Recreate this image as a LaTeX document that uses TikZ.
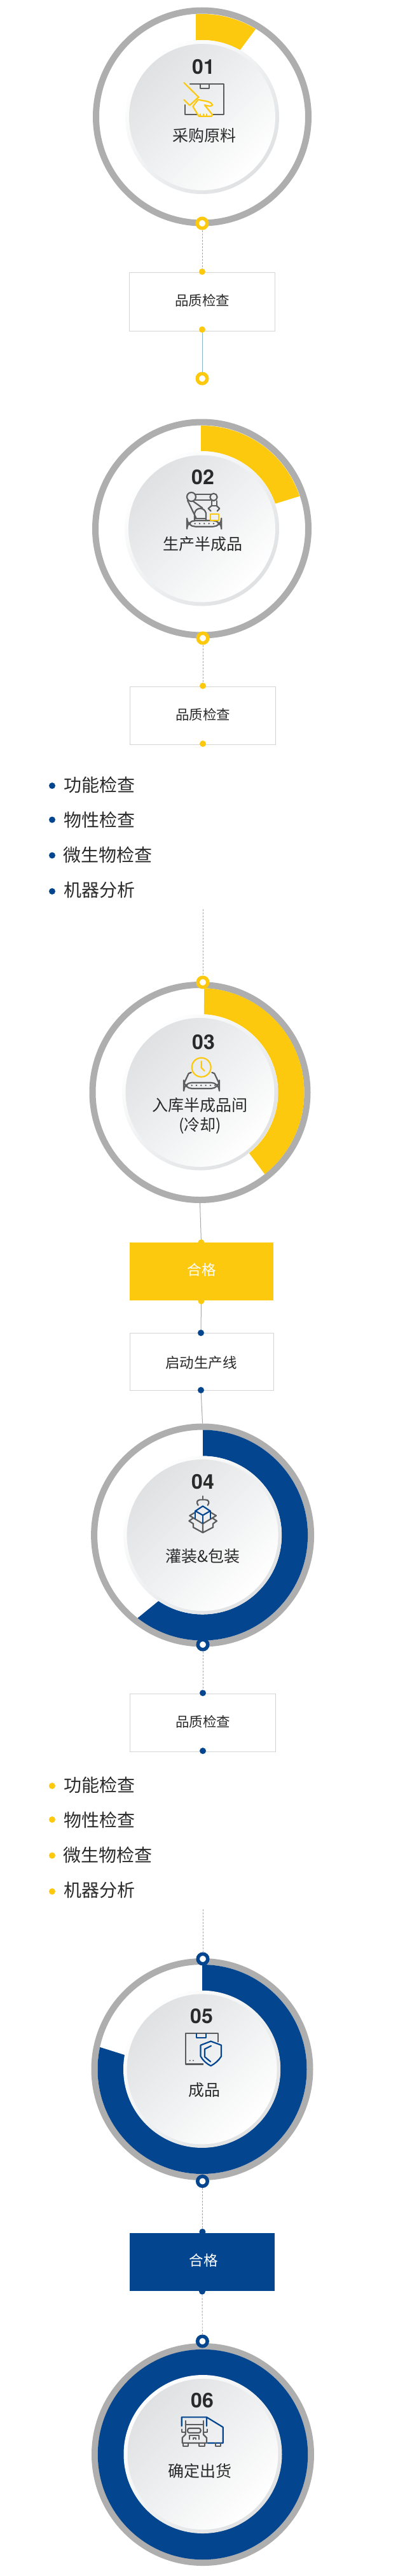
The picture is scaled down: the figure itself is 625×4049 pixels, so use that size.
\documentclass[tikz,border=0pt]{standalone}
\usepackage{fontspec}
\setmainfont{Noto Sans CJK SC}
\newfontfamily\numfont{TeX Gyre Heros}
\definecolor{ybrand}{HTML}{FDC90F}
\definecolor{bbrand}{HTML}{03458E}
\definecolor{ringgray}{HTML}{AEAEAE}
\definecolor{inkc}{HTML}{2A2A2A}
\definecolor{icong}{HTML}{5C5C5C}
\definecolor{discg}{HTML}{DFE1E3}
\definecolor{boxline}{HTML}{D4D4D4}
\definecolor{conng}{HTML}{A8A8A8}
\tikzset{
  x=1pt,y=1pt,
  anchorcirc/.style={circle,inner sep=0pt,outer sep=0pt},
  discrim/.style={left color=white,right color=discg,shading angle=45},
  discface/.style={left color=discg,right color=white,shading angle=45},
  numtxt/.style={font=\numfont\bfseries\fontsize{32}{32}\selectfont,text=inkc,inner sep=0pt},
  steptxt/.style={font=\fontsize{25}{30}\selectfont,text=inkc,inner sep=0pt,align=center},
  boxtxt/.style={font=\fontsize{21.5}{26}\selectfont,text=inkc,inner sep=0pt},
  wtxt/.style={font=\fontsize{22.5}{26}\selectfont,text=white,inner sep=0pt},
  listtxt/.style={font=\fontsize{28}{32}\selectfont,text=inkc,inner sep=0pt,anchor=west},
  outlinebox/.style={rectangle,draw=boxline,line width=1,fill=white,inner sep=0pt},
  solidbox/.style={rectangle,inner sep=0pt},
  ydot/.style={circle,fill=ybrand,inner sep=0pt,minimum size=10},
  bdot/.style={circle,fill=bbrand,inner sep=0pt,minimum size=10},
  dashconn/.style={draw=conng,line width=0.9,dash pattern=on 3pt off 2pt},
  solidconn/.style={draw=conng,line width=1},
  tealconn/.style={draw=cyan!35!conng,line width=1},
  ig/.style={draw=icong,line width=2.2,line join=round,line cap=round},
  iy/.style={draw=ybrand,line width=2.2,line join=round,line cap=round},
  ib/.style={draw=bbrand,line width=2.2,line join=round,line cap=round},
}
\newcommand{\bigringat}[4]{% name cx cy Router
  \node[anchorcirc,minimum size={2*#4}] (#1) at (#2,-#3) {};
  \draw[draw=ringgray,fill=white,line width=10] (#2,-#3) circle[radius={#4-5}];}
\newcommand{\smallringat}[4]{% name x y colour
  \node[anchorcirc,minimum size=21] (#1) at (#2,-#3) {};
  \draw[draw=#4,fill=white,line width=5.5] (#2,-#3) circle[radius=7.75];}
\newcommand{\bandarc}[9]{% cx cy Ro Ri a0o a0i a1o a1i colour
  \fill[#9] ([shift={(#1,-#2)}]#5:#3) arc[start angle=#5,end angle=#7,radius=#3]
    -- ([shift={(#1,-#2)}]#8:#4) arc[start angle=#8,end angle=#6,radius=#4] -- cycle;}
\newcommand{\discat}[4]{% cx cy Rrim Rface
  \shade[discrim] (#1,-#2) circle[radius=#3];
  \shade[discface] (#1,-#2) circle[radius=#4];}
\begin{document}
\begin{tikzpicture}
\useasboundingbox (0,-4049) rectangle (625,0);
\fill[white] (0,-4049) rectangle (625,0);

% ---------- station 01
\bigringat{ringa}{318}{183.5}{172}
\bandarc{318}{184}{162}{121}{93.5}{94.7}{58.7}{60.5}{ybrand}
\discat{318}{184}{121}{115}
\node[numtxt] (numa) at (320,-105) {01};
\node[steptxt] (stepa) at (321,-213) {采购原料};
\begin{scope}[shift={(240,-50)},x=0.3333pt,y=-0.3333pt]
  \draw[ig] (177,247) -- (335,247) -- (335,390) -- (153,390) -- (153,345);
  \draw[ig] (225,247) -- (225,267) -- (267,267) -- (267,247);
  \draw[iy] (148,240) -- (217,308) -- (175,347) -- (148,320);
  \draw[iy,fill=discg!40!white] (190,352) -- (215,320) -- (240,325) .. controls (265,328) and (280,335) .. (282,345) .. controls (280,352) and (265,352) .. (245,345) -- (283,392) -- (278,398) -- (218,398) -- cycle;
  \draw[iy] (225,398) -- (225,388) (240,398) -- (240,388) (255,398) -- (255,388);
\end{scope}
\smallringat{dota}{318}{351}{ybrand}
\node[outlinebox,minimum width=229,minimum height=92] (boxa) at (318,-474) {};
\node[boxtxt] (boxatxt) at (318,-472) {品质检查};
\node[ydot] (boxat) at (318,-427) {};
\node[ydot] (boxab) at (318,-518) {};
\smallringat{dotb}{318}{595}{ybrand}
\draw[dashconn] (dota) -- (boxat);
\draw[tealconn] (boxab) -- (dotb);

% ---------- station 02
\bigringat{ringb}{317.5}{831}{172.5}
\bandarc{317.5}{831}{162}{122}{90.5}{90.7}{18.4}{18.8}{ybrand}
\discat{317.5}{831}{121.5}{115.5}
\node[numtxt] (numb) at (319,-750) {02};
\node[steptxt] (stepb) at (318.5,-855) {生产半成品};
\begin{scope}[shift={(240,-690)},x=0.3333pt,y=-0.3333pt]
  \draw[ig] (183,273) circle[radius=21];
  \draw[ig] (288,274) circle[radius=17];
  \draw[ig] (200,262) -- (275,262) (200,287) -- (275,287);
  \draw[ig] (165,290) -- (205,372) (190,293) -- (235,325);
  \draw[ig] (198,385) -- (198,350) .. controls (205,320) and (245,320) .. (252,350) -- (252,385);
  \draw[ig] (200,375) -- (250,375);
  \draw[ig,rounded corners=13] (162,385) rectangle (325,413);
  \foreach \dx in {178,200,222,244,266,288,310} \fill[icong] (\dx,399) circle[radius=4];
  \draw[ig] (278,292) -- (278,315) -- (302,315) -- (302,292);
  \draw[ig] (278,315) -- (263,328) -- (275,340) (302,315) -- (316,328) -- (305,340);
  \draw[iy] (273,353) rectangle (311,385);
\end{scope}
\smallringat{dotc}{319}{1003}{ybrand}
\node[outlinebox,minimum width=229,minimum height=91] (boxb) at (318.5,-1124.5) {};
\node[boxtxt] (boxbtxt) at (319,-1123) {品质检查};
\node[ydot] (boxbt) at (319,-1078) {};
\node[ydot] (boxbb) at (319,-1169) {};
\draw[dashconn] (dotc) -- (boxbt);
\foreach \nm/\yy/\ytx/\txx/\lab in {a/1235/1234/100/功能检查,b/1288.5/1289/100/物性检查,c/1344.5/1344/99/微生物检查,d/1401/1399/100/机器分析}{
  \node[bdot] (lista\nm) at (82,-\yy) {};
  \node[listtxt] (listatxt\nm) at (\txx,-\ytx) {\lab};
}
\coordinate (freea) at (319,-1429);

% ---------- station 03
\bigringat{ringc}{314.5}{1717}{174}
\bandarc{314.5}{1717}{164}{123}{87.7}{87}{-51.6}{-51}{ybrand}
\discat{314.5}{1717}{122.5}{117}
\node[numtxt] (numc) at (320,-1638) {03};
\node[steptxt] (stepc) at (314.5,-1753.5) {入库半成品间\\[1pt](冷却)};
\begin{scope}[shift={(230,-1570)},x=0.3333pt,y=-0.3333pt]
  \draw[iy] (260,323) circle[radius=45];
  \draw[iy] (260,295) -- (260,325) -- (275,340);
  \draw[ig,rounded corners=13] (177,395) rectangle (345,423);
  \foreach \dx in {193,215,237,259,281,303,325} \fill[icong] (\dx,408) circle[radius=4];
  \draw[ig] (180,395) -- (200,352) -- (212,347) (342,395) -- (322,352) -- (310,347);
\end{scope}
\smallringat{dotd}{319}{1544}{ybrand}
\draw[dashconn] (freea) -- (dotd);
\node[solidbox,fill=ybrand,minimum width=226.5,minimum height=91] (passa) at (317,-1998.5) {};
\node[wtxt] (passatxt) at (317,-1996) {合格};
\node[ydot] (passat) at (316.5,-1953) {};
\node[ydot] (passab) at (316.5,-2045) {};
\draw[solidconn] (ringc.south) -- (passat);
\node[outlinebox,minimum width=226,minimum height=90] (startbox) at (317,-2140) {};
\node[wtxt,text=inkc] (starttxt) at (316.5,-2141.5) {启动生产线};
\node[bdot] (startt) at (316,-2095) {};
\node[bdot] (startb) at (316,-2185) {};
\draw[solidconn] (passab) -- (startt);

% ---------- station 04
\bigringat{ringd}{318.6}{2413}{175.5}
\bandarc{318.6}{2413}{165.5}{124.5}{89.8}{89.8}{-128.1}{-123.8}{bbrand}
\discat{318.6}{2413}{124.5}{119}
\node[numtxt] (numd) at (319,-2328.6) {04};
\node[steptxt] (stepd) at (319,-2445.5) {灌装\&包装};
\draw[solidconn] (startb) -- (ringd.north);
\begin{scope}[shift={(280,-2340)},x=0.3333pt,y=-0.3333pt]
  \draw[ig] (117,35) -- (117,50);
  \draw[ig] (95,78) .. controls (85,65) and (90,52) .. (105,52) -- (130,52) .. controls (145,52) and (150,65) .. (140,78);
  \draw[ig] (80,112) -- (55,127) -- (117,165) -- (180,127) -- (155,112);
  \draw[ig] (72,138) -- (52,152) -- (72,165) (162,138) -- (183,152) -- (165,165);
  \draw[ig] (72,165) -- (72,182) -- (117,207) -- (165,182) -- (165,165) (117,165) -- (117,207);
  \draw[ib] (117,82) -- (152,105) -- (117,125) -- (82,105) -- cycle;
  \draw[ib] (82,105) -- (82,140) (152,105) -- (152,140) (117,125) -- (117,162);
\end{scope}
\smallringat{dote}{319}{2585}{bbrand}
\node[outlinebox,minimum width=229,minimum height=91.5] (boxc) at (318.5,-2707.75) {};
\node[boxtxt] (boxctxt) at (319,-2706) {品质检查};
\node[bdot] (boxct) at (319,-2661) {};
\node[bdot] (boxcb) at (319,-2752) {};
\draw[dashconn] (dote) -- (boxct);
\foreach \nm/\yy/\ytx/\txx/\lab in {a/2807/2806/100/功能检查,b/2860/2861/100/物性检查,c/2916.5/2916/99/微生物检查,d/2973/2971/100/机器分析}{
  \node[ydot] (listb\nm) at (82,-\yy) {};
  \node[listtxt] (listbtxt\nm) at (\txx,-\ytx) {\lab};
}
\coordinate (freeb) at (319,-3001);

% ---------- station 05
\bigringat{ringe}{318}{3252.5}{174.5}
\bandarc{318}{3252.5}{164.5}{123}{90}{90}{-192.2}{-190.4}{bbrand}
\discat{317.6}{3252.3}{123.6}{118}
\node[numtxt] (nume) at (317,-3169) {05};
\node[steptxt] (stepe) at (321,-3284.6) {成品};
\begin{scope}[shift={(0,-2900)},x=0.4pt,y=-0.38270pt]
  \draw[ig,line cap=butt] (800,900) -- (730,900) -- (730,773) -- (857,773) -- (857,810);
  \draw[ib] (773,775) -- (773,791) -- (811,791) -- (811,775);
  \fill[icong] (747,885) circle[radius=3] (760,885) circle[radius=3];
  \draw[ib] (829,806) -- (870,822) -- (870,868) .. controls (860,885) and (845,898) .. (829,907) .. controls (812,898) and (798,885) .. (789,868) -- (789,822) -- cycle;
  \draw[ib] (830,825) -- (805,838) -- (805,870) -- (828,890);
\end{scope}
\smallringat{dotf}{319}{3079}{bbrand}
\draw[dashconn] (freeb) -- (dotf);
\smallringat{dotg}{318.5}{3428.5}{bbrand}
\node[solidbox,fill=bbrand,minimum width=228.8,minimum height=91] (passb) at (318,-3555.5) {};
\node[wtxt] (passbtxt) at (320,-3553) {合格};
\node[bdot] (passbt) at (318.4,-3508) {};
\node[bdot] (passbb) at (318,-3601.6) {};
\draw[dashconn] (dotg) -- (passbt);

% ---------- station 06
\bigringat{ringf}{319}{3858}{175}
\fill[bbrand] (319,-3858) circle[radius=165.2];
\discat{319}{3857.5}{124.5}{118.5}
\node[numtxt] (numf) at (318,-3773) {06};
\node[steptxt] (stepf) at (314.5,-3884) {确定出货};
\begin{scope}[shift={(280,-3790)},x=0.3333pt,y=-0.3333pt]
  \draw[ib] (17,70) -- (17,28) -- (135,28) -- (212,75) -- (212,150) -- (140,150) (135,28) -- (135,70);
  \draw[ig] (35,45) -- (35,100) (120,45) -- (120,100) (35,62) -- (120,62);
  \draw[ig,rounded corners=3] (45,80) rectangle (107,102);
  \draw[ig] (18,85) -- (18,100) -- (35,100) (137,85) -- (137,100) -- (120,100);
  \draw[ig] (35,100) -- (35,110) -- (20,125) -- (20,150) -- (135,150) -- (135,125) -- (120,110) -- (120,100);
  \draw[ig] (55,132) -- (55,115) -- (100,115) -- (100,132) (72,132) -- (72,125) -- (85,125) -- (85,132);
  \draw[ig] (25,150) -- (25,165) -- (48,165) -- (48,150);
  \draw[ig] (100,150) -- (100,165) -- (125,165) -- (125,150);
  \draw[ig] (178,150) -- (178,165) -- (200,165) -- (200,150);
\end{scope}
\smallringat{doth}{318.4}{3680}{bbrand}
\draw[dashconn] (passbb) -- (doth);
\end{tikzpicture}
\end{document}
